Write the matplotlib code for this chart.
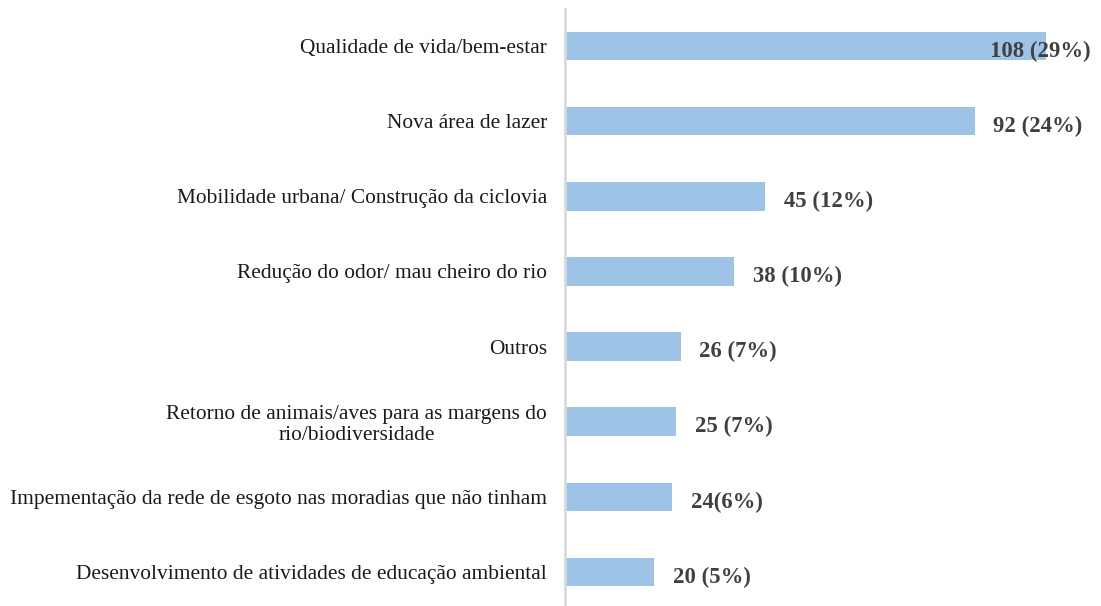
import matplotlib
matplotlib.use("Agg")
import matplotlib.pyplot as plt

categories = [
    "Qualidade de vida/bem-estar",
    "Nova área de lazer",
    "Mobilidade urbana/ Construção da ciclovia",
    "Redução do odor/ mau cheiro do rio",
    "Outros",
    "Retorno de animais/aves para as margens do\nrio/biodiversidade",
    "Impementação da rede de esgoto nas moradias que não tinham",
    "Desenvolvimento de atividades de educação ambiental",
]
values = [108, 92, 45, 38, 26, 25, 24, 20]
value_labels = ["108 (29%)", "92 (24%)", "45 (12%)", "38 (10%)", "26 (7%)",
                "25 (7%)", "24(6%)", "20 (5%)"]

plt.rcParams['font.family'] = ['Liberation Serif', 'DejaVu Serif']

W, H = 1101, 606
fig = plt.figure(figsize=(W / 100, H / 100), dpi=100)
ax = fig.add_axes([565 / W, -3.5 / H, 536 / W, 601 / H])

y = list(range(len(categories)))
ax.barh(y, values, height=0.38, color="#9DC3E6", zorder=2)
ax.set_ylim(len(categories) - 0.5, -0.5)
ax.set_xlim(0, 120.4)

ax.set_yticks(y)
ax.set_yticklabels(categories, fontsize=15.4, color="#1a1a1a",
                   multialignment="center", linespacing=1.1)
ax.tick_params(axis="y", length=0, pad=13)
ax.set_xticks([])

for s in ["top", "right", "bottom"]:
    ax.spines[s].set_visible(False)
ax.spines["left"].set_color("#D9D9D9")
ax.spines["left"].set_linewidth(2)

for i, (v, lab) in enumerate(zip(values, value_labels)):
    x = v + 4.2
    if i == 0:
        x = 95.5
    ax.text(x, i + 0.07, lab, va="center", ha="left", fontsize=16.4,
            fontweight="bold", color="#404040", zorder=3)

fig.savefig("out.png", dpi=100)
